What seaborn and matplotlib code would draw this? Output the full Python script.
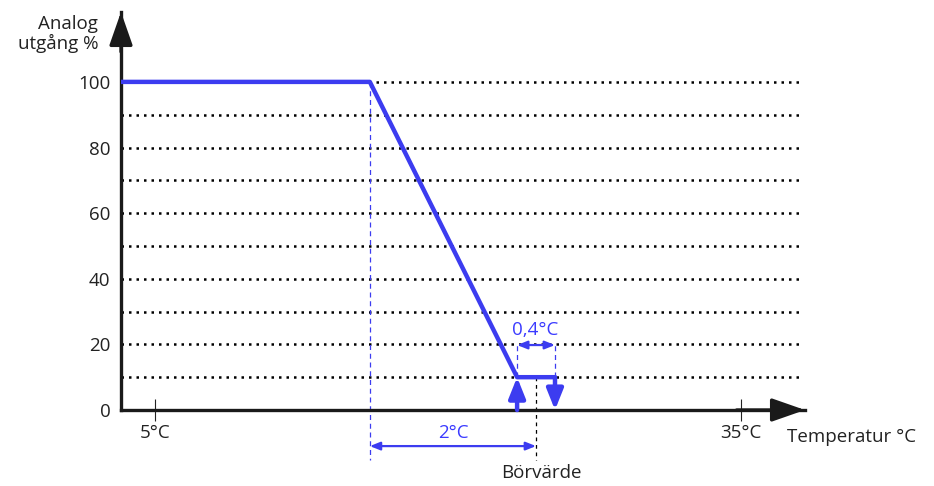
import seaborn as sns
import pandas as pd
from matplotlib import pyplot as plt

# schematic control curve (x in the chart's own °C scale, ticks at 5 and 35)
temp_pts = [3.26, 16.0, 23.54, 25.48]
output_pts = [100, 100, 10, 10]
grid_levels = [10, 20, 30, 40, 50, 60, 70, 80, 90, 100]
y_ticks = [0, 20, 40, 60, 80, 100]
x_ticks = [5, 35]
x_tick_labels = ["5°C", "35°C"]
break_temp = 16.0      # end of the 100 % plateau
setpoint = 24.51       # Börvärde
hyst_on, hyst_off = 23.54, 25.48

BLUE = "#3c3cf0"
TXT_BLUE = "#3b3bff"

sns.set_style("white")
plt.rcParams['font.family'] = ['Open Sans', 'DejaVu Sans']

fig = plt.figure(figsize=(9.34, 4.86), dpi=100)
ax = fig.add_axes([121 / 934, 76 / 486, 684 / 934, 398 / 486])
ax.set_xlim(3.26, 38.28)
ax.set_ylim(0, 121.3)

# dotted guides
for g in grid_levels:
    ax.plot([3.26, 38.2], [g, g], color="black", lw=1.8, ls=(0, (1, 2)), zorder=1)

df = pd.DataFrame({"temp": temp_pts, "out": output_pts})
sns.lineplot(data=df, x="temp", y="out", sort=False, estimator=None,
             color=BLUE, lw=3.2, ax=ax, zorder=4)

# thin dashed helpers
dash = dict(color=BLUE, lw=0.9, ls=(0, (4, 3)), clip_on=False, zorder=2)
ax.plot([break_temp, break_temp], [100, -15.2], **dash)
ax.plot([setpoint, setpoint], [10, -15.2], color="black", lw=0.9, ls=(0, (3, 3)), clip_on=False, zorder=2)
ax.plot([hyst_on, hyst_on], [10, 20.5], **dash)
ax.plot([hyst_off, hyst_off], [10, 20.5], **dash)

# thick on/off arrows
thick = dict(arrowstyle="-|>,head_length=1.25,head_width=0.5", color=BLUE, lw=3.2,
             mutation_scale=10, shrinkA=0, shrinkB=0)
ax.annotate("", xy=(hyst_on, 10), xytext=(hyst_on, 0), arrowprops=thick, zorder=5)
ax.annotate("", xy=(hyst_off, 0), xytext=(hyst_off, 10), arrowprops=thick, zorder=5)

# dimension arrows
thin = dict(arrowstyle="<|-|>,head_length=0.75,head_width=0.3", color=BLUE, lw=1.6,
            mutation_scale=8, shrinkA=0, shrinkB=0)
ax.annotate("", xy=(hyst_on, 19.8), xytext=(hyst_off, 19.8), arrowprops=thin, zorder=5)
ax.annotate("", xy=(break_temp, -11.0), xytext=(setpoint, -11.0), arrowprops=thin,
            annotation_clip=False, zorder=5)
ax.text(24.45, 24.4, "0,4°C", color=TXT_BLUE, fontsize=13.5, ha="center", va="center")
ax.text(20.3, -7.0, "2°C", color=TXT_BLUE, fontsize=13.5, ha="center", va="center", clip_on=False)
ax.text(24.8, -19.3, "Börvärde", color="#222222", fontsize=13.5, ha="center", va="center", clip_on=False)

# axes with arrow heads
for side in ["top", "right"]:
    ax.spines[side].set_visible(False)
for side in ["left", "bottom"]:
    ax.spines[side].set_linewidth(2.4)
    ax.spines[side].set_color("#1a1a1a")
head = dict(arrowstyle="-|>,head_length=1.2,head_width=0.42", color="#1a1a1a", lw=2.4,
            mutation_scale=17, shrinkA=0, shrinkB=0)
ax.annotate("", xy=(0, 1), xytext=(0, 0.9), xycoords="axes fraction", arrowprops=head,
            annotation_clip=False)
ax.annotate("", xy=(1, 0), xytext=(0.9, 0), xycoords="axes fraction", arrowprops=head,
            annotation_clip=False)

ax.set_yticks(y_ticks)
ax.tick_params(axis="y", left=False, pad=4, labelsize=13.5, labelcolor="#222222")
ax.set_xticks(x_ticks, x_tick_labels)
ax.tick_params(axis="x", bottom=True, direction="inout", length=16, width=0.8, pad=2,
               color="#222222", labelsize=13.5, labelcolor="#222222")
ax.set_xlabel("")
ax.set_ylabel("")

ax.text(2.1, 114.6, "Analog\nutgång %", fontsize=13.5, ha="right", va="center",
        multialignment="right", color="#222222", linespacing=1.05, clip_on=False)
ax.text(37.35, -8.3, "Temperatur °C", fontsize=13.5, ha="left", va="center",
        color="#222222", clip_on=False)

fig.savefig("out.png", dpi=100)
